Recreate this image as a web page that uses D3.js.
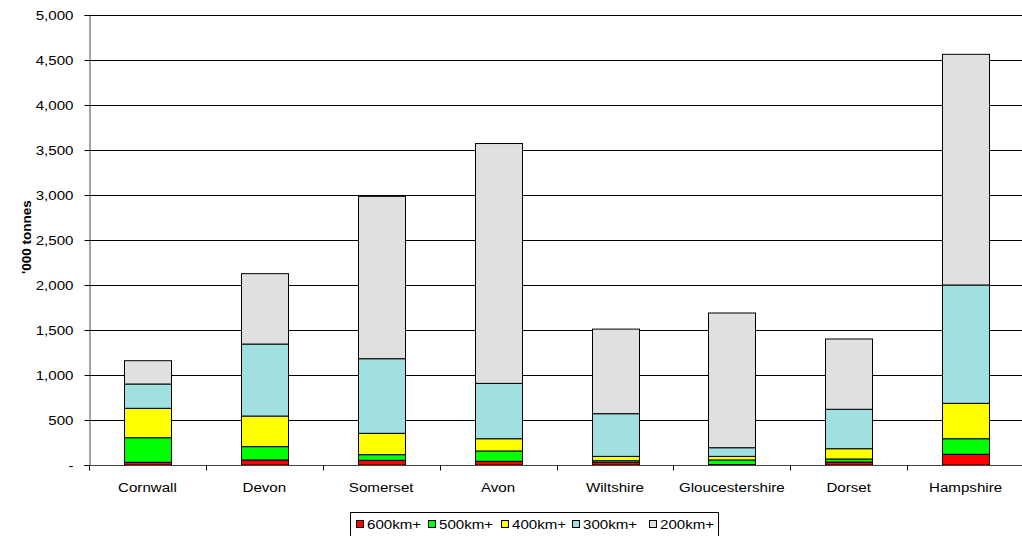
<!DOCTYPE html>
<html>
<head>
<meta charset="utf-8">
<script src="https://cdn.jsdelivr.net/npm/d3@7"></script>
<style>
  html, body { margin: 0; padding: 0; background: #fff; }
  text { font-family: Arial, "Liberation Sans", sans-serif; fill: #000; }
</style>
</head>
<body>
<svg id="chart" width="1022" height="536"></svg>
<script>
// Freight lifted by county, split by distance band ('000 tonnes)
const counties = ["Cornwall", "Devon", "Somerset", "Avon", "Wiltshire", "Gloucestershire", "Dorset", "Hampshire"];
const km600 = [30, 56, 52, 41, 30, 5, 33, 119];
const km500 = [273, 148, 63, 115, 18, 51, 34, 173];
const km400 = [327, 340, 237, 136, 48, 40, 114, 393];
const km300 = [270, 800, 829, 615, 474, 96, 438, 1315];
const km200 = [259, 782, 1804, 2665, 940, 1497, 781, 2563];
const seriesNames = ["600km+", "500km+", "400km+", "300km+", "200km+"];
const seriesColors = ["#ff0000", "#00ff00", "#ffff00", "#a0e0e0", "#e0e0e0"];
const yTicks = [0, 500, 1000, 1500, 2000, 2500, 3000, 3500, 4000, 4500, 5000];

const seriesValues = [km600, km500, km400, km300, km200];
const rows = counties.map((c, i) => {
  const r = { county: c };
  seriesNames.forEach((s, k) => { r[s] = seriesValues[k][i]; });
  return r;
});
const stacked = d3.stack().keys(seriesNames)(rows);

const svg = d3.select("#chart");
const plotL = 89, plotR = 1024, plotT = 15, plotB = 465;

const x = d3.scaleBand().domain(counties).range([plotL, plotR]).paddingInner(0.6).paddingOuter(0.3);
const xEdges = d3.scaleBand().domain(counties).range([plotL, plotR]);
const y = d3.scaleLinear().domain([0, 5000]).range([plotB, plotT]);

const fmt = d3.format(",");
const FS = 13.5;
const SX = 1.12;

// horizontal gridlines
svg.append("g").selectAll("line").data(yTicks.filter(d => d > 0)).join("line")
  .attr("x1", plotL).attr("x2", plotR)
  .attr("y1", d => Math.round(y(d)) + 0.5).attr("y2", d => Math.round(y(d)) + 0.5)
  .attr("stroke", "#000").attr("stroke-width", 1);

// stacked bars
svg.append("g").selectAll("g").data(stacked).join("g")
  .attr("fill", (d, i) => seriesColors[i])
  .selectAll("rect").data(d => d).join("rect")
  .attr("x", d => Math.round(x(d.data.county)) + 0.5)
  .attr("width", Math.round(x.bandwidth()))
  .attr("y", d => y(d[1]))
  .attr("height", d => Math.max(0, y(d[0]) - y(d[1])))
  .attr("stroke", "#000").attr("stroke-width", 1);

// y axis
const yAxis = svg.append("g").attr("transform", `translate(${plotL + 0.5},0)`)
  .call(d3.axisLeft(y).tickValues(yTicks).tickSize(5).tickPadding(11)
    .tickFormat(d => d === 0 ? "-" : fmt(d)));
yAxis.select(".domain").attr("stroke", "#444");
yAxis.selectAll(".tick line").attr("stroke", "#000");
yAxis.selectAll(".tick text").each(function() {
  const t = d3.select(this);
  t.attr("font-size", FS).attr("font-family", "Arial, 'Liberation Sans', sans-serif")
    .attr("x", +t.attr("x") / SX).attr("transform", `scale(${SX},1)`);
});

// x axis with ticks at category boundaries
const xg = svg.append("g").attr("transform", `translate(0,${plotB + 0.5})`);
xg.append("line").attr("x1", plotL).attr("x2", plotR).attr("stroke", "#444");
const edges = counties.map(c => xEdges(c)).concat([plotR]);
xg.selectAll("line.tk").data(edges).join("line").attr("class", "tk")
  .attr("x1", d => Math.round(d) + 0.5).attr("x2", d => Math.round(d) + 0.5)
  .attr("y1", 0).attr("y2", 5).attr("stroke", "#000");
xg.selectAll("text").data(counties).join("text")
  .attr("transform", d => `translate(${xEdges(d) + xEdges.bandwidth() / 2},26) scale(${SX},1)`)
  .attr("text-anchor", "middle").attr("font-size", FS).text(d => d);

// y axis title
svg.append("text")
  .attr("transform", "translate(31,237) rotate(-90)")
  .attr("text-anchor", "middle").attr("font-size", FS).attr("font-weight", "bold")
  .text("'000 tonnes");

// legend
const lg = svg.append("g");
lg.append("rect").attr("x", 350.5).attr("y", 512.5).attr("width", 368).attr("height", 24)
  .attr("fill", "#fff").attr("stroke", "#000");
const legendX = [356, 428, 501, 572, 649];
seriesNames.forEach((s, i) => {
  lg.append("rect").attr("x", legendX[i] + 0.5).attr("y", 520.5).attr("width", 7).attr("height", 7)
    .attr("fill", seriesColors[i]).attr("stroke", "#000");
  lg.append("text").attr("transform", `translate(${legendX[i] + 11},529) scale(${SX},1)`)
    .attr("font-size", FS).text(s);
});
</script>
</body>
</html>
